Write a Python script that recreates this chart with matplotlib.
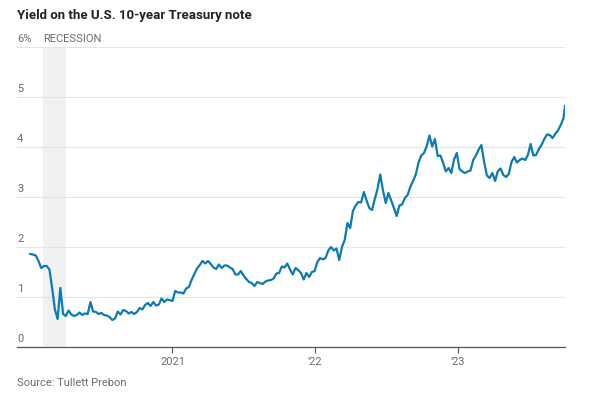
import pandas as pd
import matplotlib
matplotlib.use('Agg')
import matplotlib.pyplot as plt
import matplotlib.transforms as mtransforms

# weekly closes (Fridays)
yield_2020 = [1.86, 1.85, 1.83, 1.72, 1.58, 1.62, 1.62, 1.55, 1.18, 0.75, 0.56, 1.18, 0.66,
              0.62, 0.73, 0.65, 0.62, 0.64, 0.69, 0.64, 0.67, 0.66, 0.90, 0.71, 0.70, 0.66,
              0.68, 0.64, 0.63, 0.60, 0.54, 0.57, 0.71, 0.65, 0.74, 0.72, 0.67, 0.70, 0.66,
              0.70, 0.78, 0.75, 0.84, 0.88, 0.82, 0.90, 0.83, 0.85, 0.97, 0.90, 0.95, 0.94]
yield_2021 = [0.92, 1.12, 1.09, 1.09, 1.07, 1.17, 1.20, 1.34, 1.46, 1.57, 1.64, 1.72, 1.67,
              1.72, 1.66, 1.59, 1.56, 1.65, 1.58, 1.63, 1.63, 1.59, 1.56, 1.45, 1.45, 1.52,
              1.43, 1.36, 1.30, 1.28, 1.22, 1.30, 1.28, 1.26, 1.31, 1.33, 1.34, 1.37, 1.47,
              1.48, 1.61, 1.59, 1.67, 1.55, 1.45, 1.58, 1.54, 1.48, 1.35, 1.48, 1.40, 1.50, 1.52]
yield_2022 = [1.70, 1.78, 1.75, 1.78, 1.93, 2.00, 1.93, 1.97, 1.74, 2.00, 2.14, 2.48, 2.38,
              2.72, 2.83, 2.90, 2.89, 3.10, 2.93, 2.78, 2.74, 2.96, 3.16, 3.45, 3.13, 2.88,
              3.08, 2.93, 2.78, 2.62, 2.83, 2.85, 2.98, 3.04, 3.20, 3.32, 3.45, 3.69, 3.83,
              3.88, 4.02, 4.23, 4.01, 4.16, 3.82, 3.83, 3.68, 3.51, 3.58, 3.48, 3.75, 3.88]
yield_2023 = [3.56, 3.51, 3.48, 3.51, 3.53, 3.74, 3.83, 3.95, 4.04, 3.70, 3.43, 3.38, 3.48,
              3.32, 3.52, 3.57, 3.44, 3.40, 3.46, 3.70, 3.80, 3.69, 3.74, 3.77, 3.74, 3.84,
              4.06, 3.83, 3.84, 3.96, 4.04, 4.16, 4.25, 4.24, 4.18, 4.26, 4.33, 4.44, 4.57]
last_date, last_yield = "2023-10-03", 4.82

y_ticks = [0, 1, 2, 3, 4, 5, 6]
y_labels = ["0", "1", "2", "3", "4", "5", "6%"]
x_ticks = ["2021-01-01", "2022-01-01", "2023-01-01"]
x_labels = ["2021", "'22", "'23"]
recession = ("2020-02-05", "2020-04-03")

values = yield_2020 + yield_2021 + yield_2022 + yield_2023 + [last_yield]
dates = list(pd.date_range("2020-01-03", periods=len(values) - 1, freq="W-FRI"))
dates.append(pd.Timestamp(last_date))

LINE = '#0b7bb3'
GRID = '#e4e4e4'
TEXT = '#6b6b6b'
plt.rcParams['font.family'] = ['Roboto', 'DejaVu Sans']

fig = plt.figure(figsize=(6, 4), dpi=100)
ax = fig.add_axes([17 / 600, 53 / 400, 548 / 600, 300 / 400])

ax.axvspan(pd.Timestamp(recession[0]), pd.Timestamp(recession[1]),
           color='#eff1f3', lw=0, zorder=0)
for v in y_ticks[1:]:
    ax.axhline(v, color=GRID, lw=0.8, zorder=1)

ax.plot(dates, values, color=LINE, lw=1.6, zorder=3, solid_joinstyle='round')

ax.set_ylim(0, 6)
ax.set_xlim(pd.Timestamp("2019-11-30"), pd.Timestamp(last_date))
ax.set_yticks([])
ax.set_xticks([pd.Timestamp(d) for d in x_ticks])
ax.set_xticklabels(x_labels)
ax.tick_params(axis='x', length=4, width=0.8, color='#555555', labelcolor=TEXT,
               labelsize=8, pad=3)

for s in ['top', 'right', 'left']:
    ax.spines[s].set_visible(False)
ax.spines['bottom'].set_color('#555555')
ax.spines['bottom'].set_linewidth(0.9)

# y labels sit just above their gridline, at the left edge
trans = mtransforms.blended_transform_factory(ax.transAxes, ax.transData)
for v, lbl in zip(y_ticks, y_labels):
    ax.text(0, v + 0.06, lbl, transform=trans, ha='left', va='bottom',
            fontsize=8, color=TEXT)
ax.text(pd.Timestamp(recession[0]), 6.06, "RECESSION", ha='left', va='bottom',
        fontsize=8, color=TEXT)

fig.text(17 / 600, 1 - 15 / 400, "Yield on the U.S. 10-year Treasury note",
         ha='left', va='center', fontsize=9.5, fontweight='bold', color='#222222')
fig.text(17 / 600, 1 - 383 / 400, "Source: Tullett Prebon",
         ha='left', va='center', fontsize=8, color=TEXT)

fig.savefig("out.png", dpi=100, facecolor='white')
